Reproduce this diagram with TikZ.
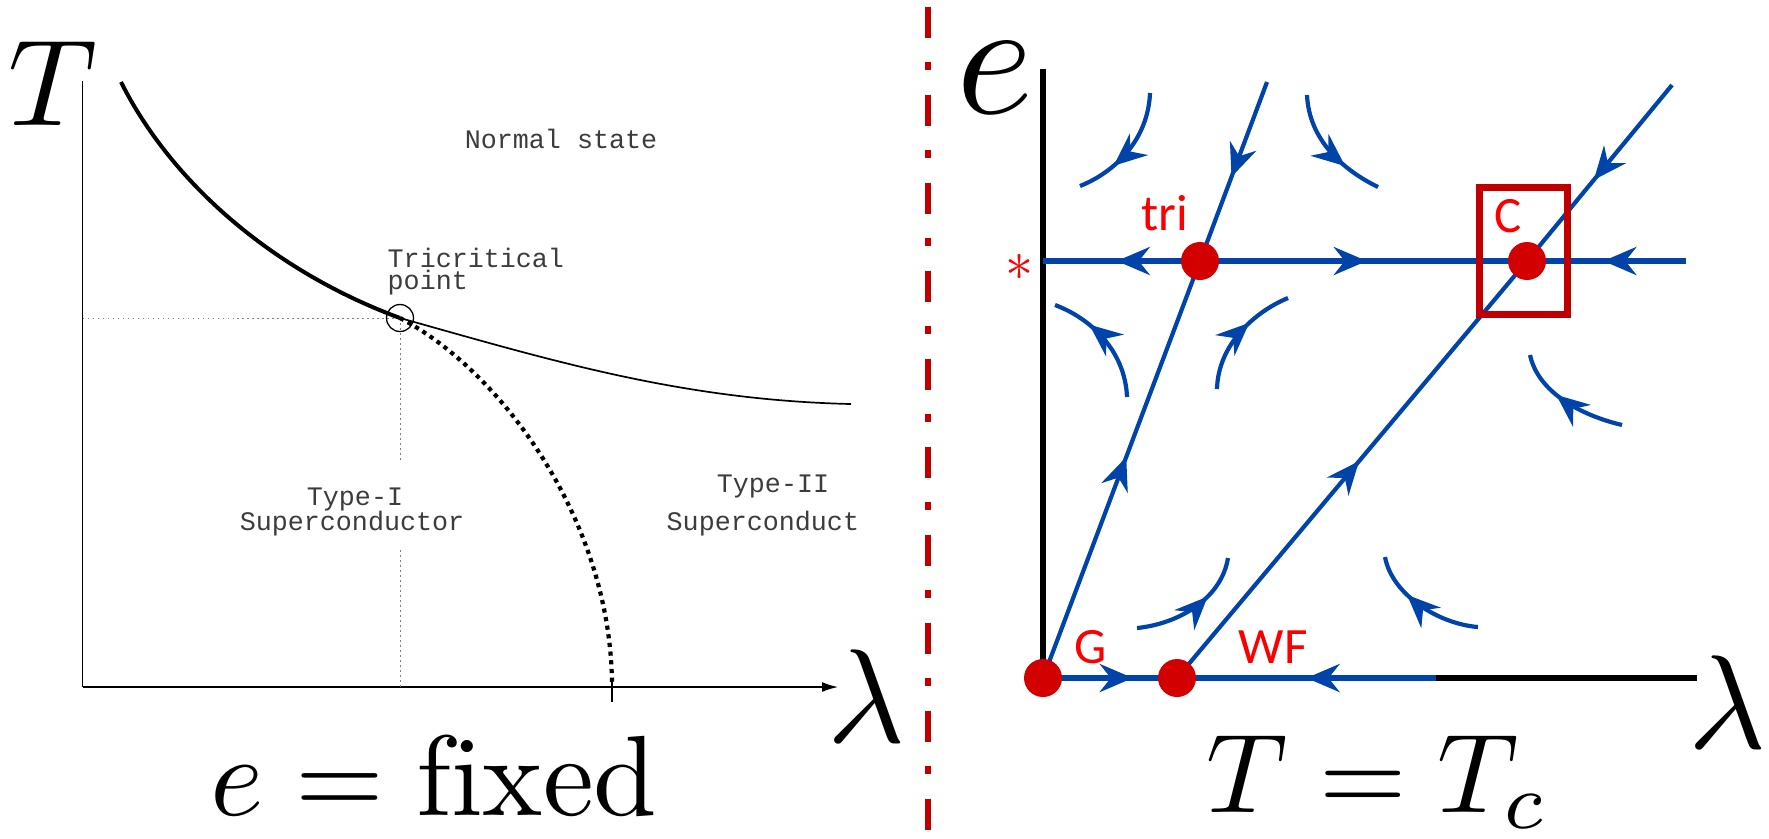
\documentclass[tikz,border=0pt]{standalone}
\usepackage{graphicx}
\usepackage{fontspec}
\newfontfamily\labfont{Carlito}
\newfontfamily\courfont{Liberation Mono}
\usetikzlibrary{arrows.meta,decorations.markings}
\definecolor{flowblue}{RGB}{0,68,170}
\definecolor{dotred}{RGB}{210,0,0}
\definecolor{labred}{RGB}{250,0,0}
\definecolor{boxred}{RGB}{192,0,0}
\definecolor{txtgray}{RGB}{60,60,60}
\tikzset{
  midarrow/.style={postaction={decorate,decoration={markings,mark=at position #1 with {\arrow{Stealth[length=3.3mm,width=2.8mm,inset=1.1mm]}}}}},
  flowline/.style={draw=flowblue,color=flowblue,line width=0.42mm},
  thickflow/.style={flowline,line width=0.62mm},
  fixpt/.style={circle,fill=dotred,minimum size=3.8mm,inner sep=0pt},
  redlab/.style={text=labred,font=\labfont\fontsize{14.5}{16}\selectfont,anchor=base,inner sep=0pt},
  ttlab/.style={text=txtgray,font=\courfont\fontsize{7.6}{9}\selectfont,anchor=base,inner sep=0pt},
  guide/.style={draw=gray,line width=0.1mm,dash pattern=on 0.15mm off 0.35mm},
  biglab/.style={anchor=base,inner sep=0pt},
}
\begin{document}
\begin{tikzpicture}[x=0.1mm,y=-0.1mm]
\useasboundingbox (0,0) rectangle (1769,838);

% ---------------- left panel ----------------
\coordinate (O) at (82.5,687);
\coordinate (Ytop) at (82.5,81);
\coordinate (Xend) at (838,687);
\coordinate (tcp) at (400,318);
\coordinate (Tfoot) at (400,687);
\coordinate (Tleft) at (82.5,318);
\coordinate (gapTop) at (400,460);
\coordinate (gapBot) at (400,550);
\coordinate (tickTop) at (612,680);
\coordinate (tickBot) at (612,702);
\coordinate (curveTop) at (121,82);
\coordinate (curveEnd) at (851,404);
\coordinate (dotEnd) at (612,687);

\draw[line width=0.16mm] (Ytop) -- (O);
\draw[line width=0.16mm,-{Latex[length=1.6mm,width=1mm]}] (O) -- (Xend);
\draw[line width=0.16mm] (tickTop) -- (tickBot);
\draw[guide] (Tleft) -- (tcp);
\draw[guide] (tcp) -- (gapTop);
\draw[guide] (gapBot) -- (Tfoot);

\draw[line width=0.4mm] (curveTop) .. controls (170,180) and (270,270) .. (tcp);
\draw[line width=0.17mm] (tcp) .. controls (550,360) and (680,400) .. (curveEnd);
\draw[line width=0.42mm,dash pattern=on 0.42mm off 0.45mm] (tcp) .. controls (500,370) and (612,520) .. (dotEnd);
\node[circle,draw,line width=0.13mm,minimum size=2.7mm,inner sep=0pt] (tcpc) at (tcp) {};

\node[ttlab] (normal) at (561,148) {Normal state};
\node[ttlab,anchor=base west] (tri1) at (387,267) {Tricritical};
\node[ttlab,anchor=base west] (tri2) at (387,289) {point};
\node[ttlab] (ty1a) at (355,505) {Type-I};
\node[ttlab] (ty1b) at (352,530) {Superconductor};
\node[ttlab] (ty2a) at (773,492) {Type-II};
\node[ttlab,anchor=base west] (ty2b) at (666,530) {Superconduct};

\node[biglab] (Tlab) at (53,125) {\scalebox{3.5}{$T$}};
\node[biglab] (lamL) at (866,742) {\scalebox{3.8}{$\lambda$}};
\node[biglab] (capL) at (434,815) {\scalebox{3.25}{$e=\mathrm{fixed}$}};

% ---------------- separator ----------------
\coordinate (sepTop) at (928,7);
\coordinate (sepBot) at (928,838);
\draw[boxred,line width=0.55mm,dash pattern=on 3.1mm off 2.4mm on 0.8mm off 2.5mm] (sepTop) -- (sepBot);

% ---------------- right panel ----------------
\coordinate (G) at (1043,678);
\coordinate (WF) at (1177,678);
\coordinate (tri) at (1200,261);
\coordinate (C) at (1527,261);
\coordinate (eTop) at (1043,69);
\coordinate (lEnd) at (1697,678);
\coordinate (star) at (1043,261);
\coordinate (hEnd) at (1686,261);
\coordinate (triTop) at (1267,82);
\coordinate (cTop) at (1672,85);
\coordinate (bEnd) at (1436,678);

\draw[line width=0.62mm] (eTop) -- (G) -- (lEnd);

\draw[thickflow,midarrow=0.53] (tri) -- (star);
\draw[thickflow,midarrow=0.51] (tri) -- (C);
\draw[thickflow,midarrow=0.52] (hEnd) -- (C);
\draw[thickflow,midarrow=0.67] (G) -- (WF);
\draw[thickflow,midarrow=0.5] (bEnd) -- (WF);
\draw[flowline,midarrow=0.53] (G) -- (tri);
\draw[flowline,midarrow=0.53] (triTop) -- (tri);
\draw[flowline,midarrow=0.52] (WF) -- (C);
\draw[flowline,midarrow=0.54] (cTop) -- (C);

\draw[flowline,midarrow=0.68] (1150,93) .. controls (1148,140) and (1115,172) .. (1080,186);
\draw[flowline,midarrow=0.68] (1307,95) .. controls (1309,140) and (1343,170) .. (1378,187);
\draw[flowline,midarrow=0.68] (1127,397) .. controls (1125,350) and (1090,318) .. (1055,305);
\draw[flowline,midarrow=0.62] (1217,389) .. controls (1218,345) and (1254,312) .. (1288,298);
\draw[flowline,midarrow=0.6] (1622,425) .. controls (1580,415) and (1538,392) .. (1530,355);
\draw[flowline,midarrow=0.64] (1137,628) .. controls (1177,624) and (1221,600) .. (1228,558);
\draw[flowline,midarrow=0.64] (1478,627) .. controls (1439,624) and (1392,595) .. (1385,557);

\node[draw=boxred,line width=0.7mm,minimum width=8.8mm,minimum height=12.7mm,inner sep=0pt] (Cbox) at (1523,250.5) {};

\node[fixpt] (Gp) at (G) {};
\node[fixpt] (WFp) at (WF) {};
\node[fixpt] (trip) at (tri) {};
\node[fixpt] (Cp) at (C) {};

\node[redlab] (triL) at (1165,230) {tri};
\node[redlab] (CL) at (1508,232) {C};
\node[redlab] (GL) at (1091,663) {G};
\node[redlab] (WFL) at (1273,663) {WF};
\node[text=labred,inner sep=0pt] (starL) at (1020,267) {\scalebox{1.6}{$\ast$}};

\node[biglab] (eLab) at (995,113) {\scalebox{4.7}{$e$}};
\node[biglab] (lamR) at (1727,748) {\scalebox{3.8}{$\lambda$}};
\node[biglab] (capR) at (1378,812) {\scalebox{3.2}{$T=T_c$}};
\end{tikzpicture}
\end{document}
